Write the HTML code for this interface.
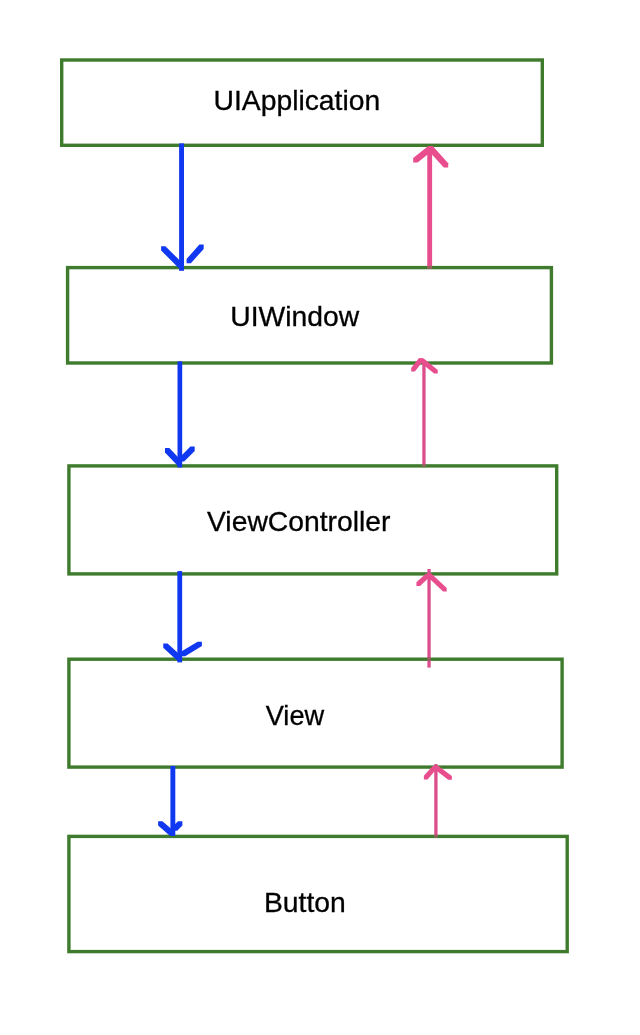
<!DOCTYPE html>
<html><head><meta charset="utf-8">
<style>
html,body{margin:0;padding:0;background:#fff;}
body{width:640px;height:1035px;overflow:hidden;}
svg{display:block;will-change:transform;}
text{font-family:"Liberation Sans",sans-serif;font-size:28.3px;fill:#000;stroke:#000;stroke-width:0.3px;}
</style></head><body>
<svg width="640" height="1035" viewBox="0 0 640 1035">
<rect x="0" y="0" width="640" height="1035" fill="#fff"/>
<g fill="none" stroke="#3f7b2d" stroke-width="3.4">
<rect x="61.7" y="60" width="480.6" height="85.3"/>
<rect x="67.6" y="267.6" width="483.8" height="95.4"/>
<rect x="68.9" y="465.9" width="487.8" height="108"/>
<rect x="68.9" y="659.2" width="493.2" height="107.9"/>
<rect x="68.9" y="836.4" width="498.3" height="115.2"/>
</g>
<!--arrows-->
<g fill="#1038f0">
<rect x="179.1" y="143.4" width="4.9" height="127.4"/>
<polygon points="161.1,246.2 165.4,246.2 183.15,263.85 183.15,268.15 178.85,268.15 161.1,250.5"/>
<polygon points="186.55,259.05 199.4,244.6 203.7,244.6 203.7,248.9 190.85,263.35 186.55,263.35"/>
<rect x="177.5" y="361.4" width="4.7" height="106.1"/>
<polygon points="165,448.1 169.3,448.1 181.95,461.35 181.95,465.65 177.65,465.65 165,452.4"/>
<polygon points="179.85,457.15 190.4,446.6 194.7,446.6 194.7,450.9 184.15,461.45 179.85,461.45"/>
<rect x="177.35" y="571.1" width="4.8" height="91.3"/>
<polygon points="163.25,643.4 167.55,643.4 181.65,656.35 181.65,660.65 177.35,660.65 163.25,647.7"/>
<polygon points="180.85,651.85 197.6,641.75 201.9,641.75 201.9,646.05 185.15,656.15 180.85,656.15"/>
<rect x="170.4" y="766" width="4.9" height="69.9"/>
<polygon points="158.1,821.2 162.4,821.2 174.15,831.35 174.15,835.65 169.85,835.65 158.1,825.5"/>
<polygon points="172.85,826.35 178.05,821.2 182.35,821.2 182.35,825.5 177.15,830.65 172.85,830.65"/>
</g>
<g fill="#e84d8e">
<rect x="427.25" y="148" width="4.85" height="120.8"/>
<polygon points="413.2,158 428.3,146 432.7,146 432.7,150.4 417.6,162.4 413.2,162.4"/>
<polygon points="428.3,146 432.7,146 448.2,163.2 448.2,167.6 443.8,167.6 428.3,150.4"/>
<rect x="422.3" y="360.5" width="3.3" height="106.5" fill="#dc4d8b"/>
<polygon points="411.2,368 418.8,358.3 422.4,358.3 422.4,361.9 414.8,371.6 411.2,371.6"/>
<polygon points="419.8,358.3 423.4,358.3 437.75,369.9 437.75,373.5 434.15,373.5 419.8,361.9"/>
<rect x="427.4" y="569" width="3.3" height="98.6" fill="#dc4d8b"/>
<polygon points="416.45,582.3 426,573.4 429.6,573.4 429.6,577 420.05,585.9 416.45,585.9"/>
<polygon points="427.7,573.4 431.3,573.4 446.7,587.9 446.7,591.5 443.1,591.5 427.7,577"/>
<rect x="434.25" y="764" width="3.3" height="73.6" fill="#dc4d8b"/>
<polygon points="423.9,775.8 432.55,766 436.15,766 436.15,769.6 427.5,779.4 423.9,779.4"/>
<polygon points="434.9,766 438.5,766 451.85,776.1 451.85,779.7 448.25,779.7 434.9,769.6"/>
</g>
<g fill="#3f7b2d" fill-opacity="0.5">
<rect x="427.25" y="265.9" width="4.85" height="2.9"/>
<rect x="422.3" y="464.2" width="3.3" height="3.2"/>
<rect x="427.4" y="657.5" width="3.3" height="3.4"/>
<rect x="434.25" y="834.7" width="3.3" height="2.9"/>
</g>
<!--/arrows-->
<text x="213.5" y="109.5">UIApplication</text>
<text x="230.3" y="325.6">UIWindow</text>
<text x="207" y="531.25">ViewController</text>
<text x="265.7" y="724.5" textLength="58.5" lengthAdjust="spacingAndGlyphs">View</text>
<text x="264" y="911.8">Button</text>
</svg>
</body></html>
